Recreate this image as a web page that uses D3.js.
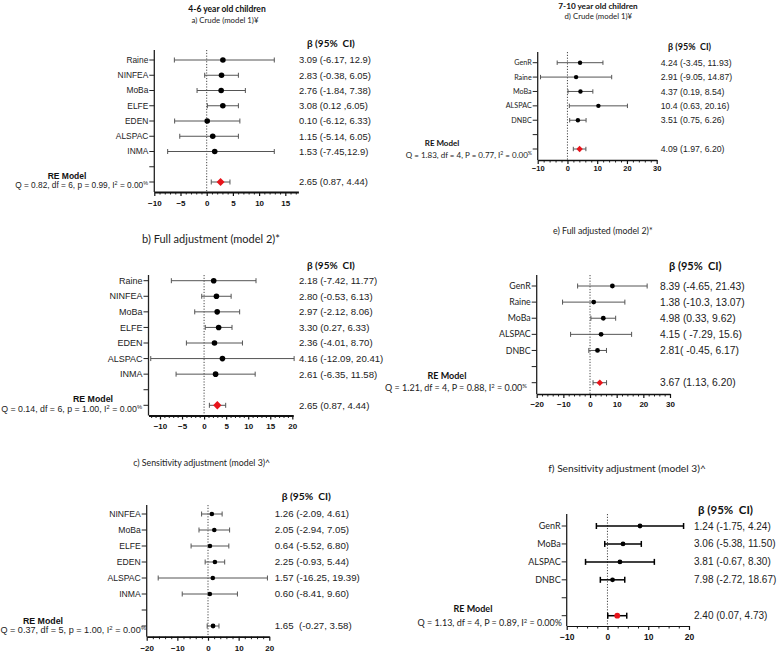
<!DOCTYPE html>
<html>
<head>
<meta charset="utf-8">
<script src="https://cdn.jsdelivr.net/npm/d3@7"></script>
<style>
  body { margin: 0; background: #fff; }
  svg { display: block; }
  text { white-space: pre; }
</style>
</head>
<body>
<svg id="chart" width="777" height="653"></svg>
<script>
// ---- data: 4-6 year old children ----
const cohortsA = ["Raine", "NINFEA", "MoBa", "ELFE", "EDEN", "ALSPAC", "INMA"];
const betaA = [3.09, 2.83, 2.76, 3.08, 0.10, 1.15, 1.53];
const lowerA = [-6.17, -0.38, -1.84, 0.12, -6.12, -5.14, -7.45];
const upperA = [12.9, 6.05, 7.38, 6.05, 6.33, 6.05, 12.9];
const ciTextA = ["3.09 (-6.17, 12.9)", "2.83 (-0.38, 6.05)", "2.76 (-1.84, 7.38)", "3.08 (0.12 ,6.05)",
  "0.10 (-6.12, 6.33)", "1.15 (-5.14, 6.05)", "1.53 (-7.45,12.9)"];
const reA = [2.65, 0.87, 4.44];
const reTextA = "2.65 (0.87, 4.44)";
const qA = ["Q = 0.82, df = 6, p = 0.99, I", "2", " = 0.00", "%"];
const ticksA = [-10, -5, 0, 5, 10, 15];

const cohortsB = ["Raine", "NINFEA", "MoBa", "ELFE", "EDEN", "ALSPAC", "INMA"];
const betaB = [2.18, 2.80, 2.97, 3.30, 2.36, 4.16, 2.61];
const lowerB = [-7.42, -0.53, -2.12, 0.27, -4.01, -12.09, -6.35];
const upperB = [11.77, 6.13, 8.06, 6.33, 8.70, 20.41, 11.58];
const ciTextB = ["2.18 (-7.42, 11.77)", "2.80 (-0.53, 6.13)", "2.97 (-2.12, 8.06)", "3.30 (0.27, 6.33)",
  "2.36 (-4.01, 8.70)", "4.16 (-12.09, 20.41)", "2.61 (-6.35, 11.58)"];
const reB = [3.0, 1.2, 4.9]; // as drawn in the figure
const reTextB = "2.65 (0.87, 4.44)";
const qB = ["Q = 0.14, df = 6, p = 1.00, I", "2", " = 0.00", "%"];
const ticksB = [-10, -5, 0, 5, 10, 15, 20];

const cohortsC = ["NINFEA", "MoBa", "ELFE", "EDEN", "ALSPAC", "INMA"];
const betaC = [1.26, 2.05, 0.64, 2.25, 1.57, 0.60];
const lowerC = [-2.09, -2.94, -5.52, -0.93, -16.25, -8.41];
const upperC = [4.61, 7.05, 6.80, 5.44, 19.39, 9.60];
const ciTextC = ["1.26 (-2.09, 4.61)", "2.05 (-2.94, 7.05)", "0.64 (-5.52, 6.80)", "2.25 (-0.93, 5.44)",
  "1.57 (-16.25, 19.39)", "0.60 (-8.41, 9.60)"];
const reC = [1.65, -0.27, 3.58];
const reTextC = "1.65  (-0.27, 3.58)";
const qC = ["Q = 0.37, df = 5, p = 1.00, I", "2", " = 0.00", "%"];
const ticksC = [-20, -10, 0, 10, 20];

// ---- data: 7-10 year old children ----
const cohortsD = ["GenR", "Raine", "MoBa", "ALSPAC", "DNBC"];
const betaD = [4.24, 2.91, 4.37, 10.4, 3.51];
const lowerD = [-3.45, -9.05, 0.19, 0.63, 0.75];
const upperD = [11.93, 14.87, 8.54, 20.16, 6.26];
const ciTextD = ["4.24 (-3.45, 11.93)", "2.91 (-9.05, 14.87)", "4.37 (0.19, 8.54)", "10.4 (0.63, 20.16)", "3.51 (0.75, 6.26)"];
const reD = [4.09, 1.97, 6.20];
const reTextD = "4.09 (1.97, 6.20)";
const qD = ["Q = 1.83, df = 4, P = 0.77, I", "2", " = 0.00", "%"];
const ticksD = [-10, 0, 10, 20, 30];

const cohortsE = ["GenR", "Raine", "MoBa", "ALSPAC", "DNBC"];
const betaE = [8.39, 1.38, 4.98, 4.15, 2.81];
const lowerE = [-4.65, -10.3, 0.33, -7.29, -0.45];
const upperE = [21.43, 13.07, 9.62, 15.6, 6.17];
const ciTextE = ["8.39 (-4.65, 21.43)", "1.38 (-10.3, 13.07)", "4.98 (0.33, 9.62)", "4.15 ( -7.29, 15.6)", "2.81( -0.45, 6.17)"];
const reE = [3.67, 1.13, 6.20];
const reTextE = "3.67 (1.13, 6.20)";
const qE = ["Q = 1.21, df = 4, P = 0.88, I", "2", " = 0.00", "%"];
const ticksE = [-20, -10, 0, 10, 20, 30];

const cohortsF = ["GenR", "MoBa", "ALSPAC", "DNBC"];
const betaF = [7.98, 3.81, 3.06, 1.24];
const lowerF = [-2.72, -0.67, -5.38, -1.75];
const upperF = [18.67, 8.30, 11.50, 4.24];
const ciTextF = ["1.24 (-1.75, 4.24)", "3.06 (-5.38, 11.50)", "3.81 (-0.67, 8.30)", "7.98 (-2.72, 18.67)"];
const reF = [2.40, 0.07, 4.73];
const reTextF = "2.40 (0.07, 4.73)";
const qF = ["Q = 1.13, df = 4, P = 0.89, I", "2", " = 0.00%"];
const ticksF = [-10, 0, 10, 20];

const titles = ["4-6 year old children", "7-10 year old children"];
const subtitles = ["a) Crude (model 1)\u00a5", "b) Full adjustment (model 2)*", "c) Sensitivity adjustment (model 3)^",
  "d) Crude (model 1)\u00a5", "e) Full adjusted (model 2)*", "f) Sensitivity adjustment (model 3)^"];
const header = "\u03b2 (95%  CI)";

// ---- layout ----
const ARIAL = "'Liberation Sans', Arial, sans-serif";
const CALI = "Lato, 'Open Sans', sans-serif";

const layoutA = {
  domain: [-10, 17.5], xRange: [154.3, 298.4], minorStep: 1, yRange: [60, 182], axisTop: 50, axisY: 192,
  labelFont: ARIAL, labelSize: 8.4, valX: 299, valSize: 9.4, headX: 307, headY: 46.5, headSize: 10,
  subX: 225, subY: 23, subSize: 7.8, reX: 67, reY: 178.5, reFont: ARIAL, reSize: 8.5,
  qX: 148, qY: 187.5, qFont: ARIAL, qSize: 8.3, dotR: 2.8, mark: "diamond", markR: 4,
  barColor: "#555", barW: 1, axisW: 1.8, tickSize: 8, tickGap: 14, capH: 2.5,
};
const layoutB = {
  domain: [-12.6, 20.2], xRange: [148.5, 293.2], minorStep: 1, yRange: [280.7, 405.3], axisTop: 275, axisY: 415.5,
  labelFont: ARIAL, labelSize: 9, valX: 299, valSize: 9.6, headX: 307, headY: 268.5, headSize: 10,
  subX: 211, subY: 242.5, subSize: 11, reX: 93, reY: 401.5, reFont: ARIAL, reSize: 8.8,
  qX: 142, qY: 411.5, qFont: ARIAL, qSize: 8.8, dotR: 2.8, mark: "diamond", markR: 4.2,
  barColor: "#555", barW: 1, axisW: 1.8, tickSize: 8, tickGap: 13.5, capH: 2.5,
};
const layoutC = {
  domain: [-20, 20], xRange: [146.7, 269.3], minorStep: 2, yRange: [514, 626], axisTop: 505, axisY: 636.7,
  labelFont: ARIAL, labelSize: 8.6, valX: 274.7, valSize: 9.7, headX: 281.7, headY: 500, headSize: 10.3,
  subX: 201.7, subY: 466, subSize: 8.8, reX: 43, reY: 623.5, reFont: ARIAL, reSize: 8.8,
  qX: 146, qY: 633, qFont: ARIAL, qSize: 9.1, dotR: 2.3, mark: "dot", markR: 2.4,
  barColor: "#555", barW: 1, axisW: 1.8, tickSize: 8, tickGap: 14, capH: 2.5,
};
const layoutD = {
  domain: [-10, 30], xRange: [537.7, 656.7], minorStep: 2, yRange: [62.7, 149], axisTop: 52, axisY: 160,
  labelFont: CALI, labelSize: 7.2, valX: 660.7, valSize: 8.7, headX: 668, headY: 49.5, headSize: 9,
  subX: 598.3, subY: 18.5, subSize: 7.8, reX: 442, reY: 146, reFont: CALI, reSize: 8,
  qX: 532, qY: 157.5, qFont: CALI, qSize: 8, dotR: 2.2, mark: "diamond", markR: 3.2,
  barColor: "#555", barW: 1, axisW: 1.6, tickSize: 7.5, tickGap: 11, capH: 2.2,
};
const layoutE = {
  domain: [-20, 30], xRange: [536.7, 670], minorStep: 2, yRange: [286, 382.7], axisTop: 275, axisY: 394,
  labelFont: CALI, labelSize: 8.8, valX: 660, valSize: 10.3, headX: 669, headY: 270, headSize: 11,
  subX: 602.8, subY: 234, subSize: 8.8, reX: 447, reY: 379, reFont: CALI, reSize: 9,
  qX: 527, qY: 390.5, qFont: CALI, qSize: 9, dotR: 2.4, mark: "diamond", markR: 3.3,
  barColor: "#555", barW: 1, axisW: 1.6, tickSize: 8, tickGap: 13, capH: 2.5,
};
const layoutF = {
  domain: [-10, 20], xRange: [566.7, 689], minorStep: 2.5, yRange: [526, 615.7], axisTop: 514, axisY: 626,
  labelFont: CALI, labelSize: 9, valX: 694, valSize: 10, headX: 698, headY: 513.5, headSize: 11.5,
  subX: 627, subY: 472, subSize: 10.2, reX: 473, reY: 612, reFont: CALI, reSize: 9,
  qX: 562, qY: 625.5, qFont: CALI, qSize: 9, dotR: 2.4, mark: "circle", markR: 2.9,
  barColor: "#000", barW: 1.5, axisW: 1.2, tickSize: 8.5, tickGap: 14, capH: 3,
};

const svg = d3.select("#chart");

function drawPanel(d, L) {
  const g = svg.append("g");
  const x = d3.scaleLinear().domain(L.domain).range(L.xRange);
  const rows = d.cohorts.map((c, i) => "r" + i).concat(["gap", "re"]);
  const y = d3.scalePoint().domain(rows).range(L.yRange);
  const x0 = L.xRange[0];

  // subtitle and column header
  g.append("text")
    .attr("x", L.subX).attr("y", L.subY).attr("text-anchor", "middle")
    .attr("font-family", CALI).attr("font-size", L.subSize).attr("fill", "#222")
    .text(d.subtitle);
  g.append("text")
    .attr("x", L.headX).attr("y", L.headY)
    .attr("font-family", CALI).attr("font-weight", "bold").attr("font-size", L.headSize).attr("fill", "#111")
    .text(header);

  // zero reference line
  g.append("line")
    .attr("x1", x(0)).attr("x2", x(0)).attr("y1", L.axisTop).attr("y2", L.axisY)
    .attr("stroke", "#333").attr("stroke-width", 0.9).attr("stroke-dasharray", "1.2,1.6");

  // left axis with row ticks
  g.append("line")
    .attr("x1", x0).attr("x2", x0).attr("y1", L.axisTop).attr("y2", L.axisY)
    .attr("stroke", "#222").attr("stroke-width", 1.3);
  g.selectAll(".rowtick").data(rows).join("line")
    .attr("x1", x0 - 5).attr("x2", x0)
    .attr("y1", (r) => y(r)).attr("y2", (r) => y(r))
    .attr("stroke", "#222").attr("stroke-width", 1);

  // bottom axis: minor + major ticks
  const minor = d3.range(Math.ceil(L.domain[0] / L.minorStep) * L.minorStep, L.domain[1] + 1e-9, L.minorStep)
    .filter((v) => !d.ticks.includes(v));
  g.append("g")
    .attr("transform", `translate(0,${L.axisY})`)
    .call(d3.axisBottom(x).tickValues(minor).tickSize(2.5).tickSizeOuter(0).tickFormat(""))
    .call((a) => a.select(".domain").remove())
    .call((a) => a.selectAll("line").attr("stroke", "#222"));
  g.append("g")
    .attr("transform", `translate(0,${L.axisY})`)
    .call(d3.axisBottom(x).tickValues(d.ticks).tickSize(4).tickSizeOuter(0))
    .call((a) => a.select(".domain").attr("stroke", "#111").attr("stroke-width", L.axisW))
    .call((a) => a.selectAll("line").attr("stroke", "#111").attr("stroke-width", 1.2))
    .call((a) => a.selectAll("text")
      .attr("y", L.tickGap).attr("dy", null)
      .attr("font-family", ARIAL).attr("font-weight", "bold").attr("font-size", L.tickSize).attr("fill", "#111"));

  // study rows
  const idx = d.cohorts.map((c, i) => i);
  const bars = g.append("g").attr("stroke", L.barColor).attr("stroke-width", L.barW);
  bars.selectAll(".ci").data(idx).join("line")
    .attr("x1", (i) => x(d.lower[i])).attr("x2", (i) => x(d.upper[i]))
    .attr("y1", (i) => y("r" + i)).attr("y2", (i) => y("r" + i));
  bars.selectAll(".capl").data(idx).join("line")
    .attr("x1", (i) => x(d.lower[i])).attr("x2", (i) => x(d.lower[i]))
    .attr("y1", (i) => y("r" + i) - L.capH).attr("y2", (i) => y("r" + i) + L.capH);
  bars.selectAll(".capu").data(idx).join("line")
    .attr("x1", (i) => x(d.upper[i])).attr("x2", (i) => x(d.upper[i]))
    .attr("y1", (i) => y("r" + i) - L.capH).attr("y2", (i) => y("r" + i) + L.capH);
  g.selectAll(".pt").data(idx).join("circle")
    .attr("cx", (i) => x(d.beta[i])).attr("cy", (i) => y("r" + i)).attr("r", L.dotR)
    .attr("fill", "#000");

  g.selectAll(".lab").data(idx).join("text")
    .attr("x", x0 - 6).attr("y", (i) => y("r" + i)).attr("dy", "0.35em").attr("text-anchor", "end")
    .attr("font-family", L.labelFont).attr("font-size", L.labelSize).attr("fill", "#222")
    .text((i) => d.cohorts[i]);
  g.selectAll(".val").data(idx).join("text")
    .attr("x", L.valX).attr("y", (i) => y("r" + i)).attr("dy", "0.35em")
    .attr("font-family", ARIAL).attr("font-size", L.valSize).attr("fill", "#222")
    .text((i) => d.ciText[i]);

  // pooled (RE model) row
  const yr = y("re");
  const [est, lo, hi] = d.re;
  const reBar = g.append("g").attr("stroke", L.barColor).attr("stroke-width", L.barW);
  reBar.append("line").attr("x1", x(lo)).attr("x2", x(hi)).attr("y1", yr).attr("y2", yr);
  [lo, hi].forEach((v) => {
    reBar.append("line").attr("x1", x(v)).attr("x2", x(v)).attr("y1", yr - L.capH).attr("y2", yr + L.capH);
  });
  if (L.mark === "diamond") {
    const cx = x(est), r = L.markR;
    g.append("path")
      .attr("d", `M${cx - r},${yr}L${cx},${yr - r}L${cx + r},${yr}L${cx},${yr + r}Z`)
      .attr("fill", "#e8141b");
  } else {
    g.append("circle").attr("cx", x(est)).attr("cy", yr).attr("r", L.markR)
      .attr("fill", L.mark === "circle" ? "#e8141b" : "#000");
  }
  g.append("text")
    .attr("x", L.valX).attr("y", yr).attr("dy", "0.35em")
    .attr("font-family", ARIAL).attr("font-size", L.valSize).attr("fill", "#222")
    .text(d.reText);

  g.append("text")
    .attr("x", L.reX).attr("y", L.reY).attr("text-anchor", "middle")
    .attr("font-family", L.reFont).attr("font-weight", "bold").attr("font-size", L.reSize).attr("fill", "#111")
    .text("RE Model");
  const q = g.append("text")
    .attr("x", L.qX).attr("y", L.qY).attr("text-anchor", "end")
    .attr("font-family", L.qFont).attr("font-size", L.qSize).attr("fill", "#222");
  d.q.forEach((s, i) => {
    const sup = i % 2 === 1;
    q.append("tspan")
      .attr("dy", sup ? -3 : i > 0 ? 3 : 0)
      .attr("font-size", sup ? L.qSize * 0.65 : null)
      .text(s);
  });
}

const panels = [
  [{ cohorts: cohortsA, beta: betaA, lower: lowerA, upper: upperA, ciText: ciTextA, re: reA, reText: reTextA, q: qA, ticks: ticksA, subtitle: subtitles[0] }, layoutA],
  [{ cohorts: cohortsB, beta: betaB, lower: lowerB, upper: upperB, ciText: ciTextB, re: reB, reText: reTextB, q: qB, ticks: ticksB, subtitle: subtitles[1] }, layoutB],
  [{ cohorts: cohortsC, beta: betaC, lower: lowerC, upper: upperC, ciText: ciTextC, re: reC, reText: reTextC, q: qC, ticks: ticksC, subtitle: subtitles[2] }, layoutC],
  [{ cohorts: cohortsD, beta: betaD, lower: lowerD, upper: upperD, ciText: ciTextD, re: reD, reText: reTextD, q: qD, ticks: ticksD, subtitle: subtitles[3] }, layoutD],
  [{ cohorts: cohortsE, beta: betaE, lower: lowerE, upper: upperE, ciText: ciTextE, re: reE, reText: reTextE, q: qE, ticks: ticksE, subtitle: subtitles[4] }, layoutE],
  [{ cohorts: cohortsF, beta: betaF, lower: lowerF, upper: upperF, ciText: ciTextF, re: reF, reText: reTextF, q: qF, ticks: ticksF, subtitle: subtitles[5] }, layoutF],
];
panels.forEach(([d, L]) => drawPanel(d, L));

// age-group titles
svg.selectAll(".title").data(titles).join("text")
  .attr("x", (t, i) => [227, 598][i]).attr("y", (t, i) => [12, 8.5][i])
  .attr("text-anchor", "middle")
  .attr("font-family", CALI).attr("font-weight", "bold").attr("font-size", (t, i) => [8.5, 8.2][i]).attr("fill", "#111")
  .text((t) => t);
</script>
</body>
</html>
